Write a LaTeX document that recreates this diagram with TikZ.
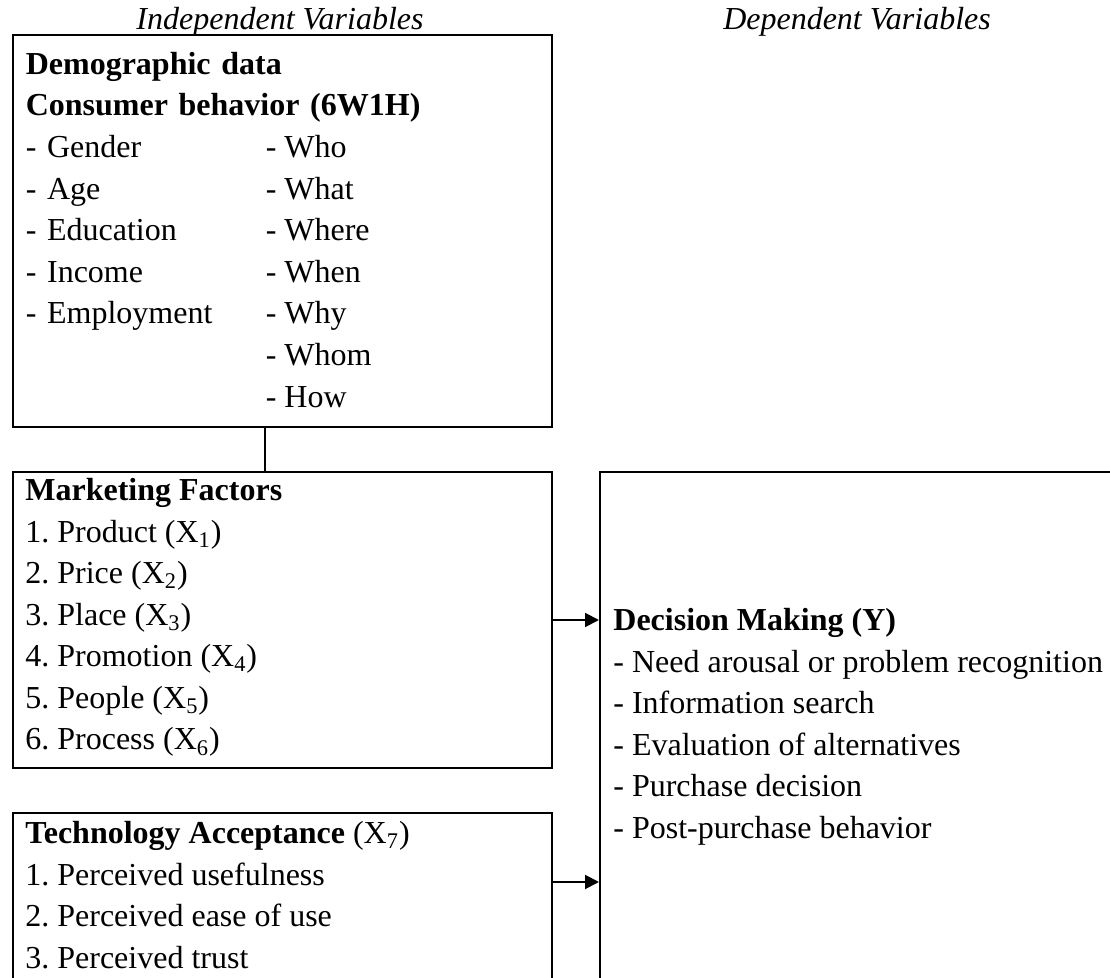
\documentclass[tikz,border=0pt]{standalone}
\usepackage{fontspec}
\setmainfont{Liberation Serif}
\usepackage{tikz}
\usepackage{xcolor}
\usetikzlibrary{arrows.meta, matrix}
\frenchspacing
\newcommand{\listsize}{\fontsize{16pt}{20.8pt}\selectfont}
\tikzset{
  %box round a group of variables
  frame/.style={
    draw
    , line width=1pt
    , inner sep=0pt
    , anchor=north west
    %, rounded corners
  },
  %lines of text inside a box
  list/.style={
    matrix of nodes
    , anchor=north west
    , inner sep=0pt
    , column sep=0pt
    , row sep=0pt
    , nodes={anchor=base west, inner sep=0pt, text height=15pt, text depth=5.8pt, font=\listsize}
  },
  head/.style={font=\listsize\bfseries},
  title/.style={font=\listsize\itshape, anchor=base, inner sep=0pt},
  flow/.style={line width=1pt, -{Triangle[length=7pt, width=7pt]}},
}
\begin{document}
\begin{tikzpicture}[x=0.5pt, y=-0.5pt]
  \path[use as bounding box] (0,0) rectangle (1110,978);
  \clip (0,0) rectangle (1110,978);
  % headings
  \node[title] (ivar) at (280,30) {Independent Variables};
  \node[title] (dvar) at (857,30) {Dependent Variables};
  % boxes
  \node[frame, minimum width=269.5pt, minimum height=196pt] (demo) at (12,34) {};
  \node[frame, minimum width=269.5pt, minimum height=148pt] (mkt) at (12,471) {};
  \node[frame, minimum width=269.5pt, minimum height=100pt] (tech) at (12,812) {};
  \node[frame, minimum width=300pt, minimum height=270pt] (dm) at (599,471) {};
  \matrix (demolist) [list, column 1/.style={nodes={text width=120pt}}] at (25,44)
    {
      |[head]| \rlap{Demographic data} \\
      |[head]| \rlap{Consumer behavior (6W1H)} \\
      - Gender & - Who \\
      - Age & - What \\
      - Education & - Where \\
      - Income & - When \\
      - Employment & - Why \\
      & - Whom \\
      & - How \\
    }; % matrix
  \matrix (mktlist) [list] at (25,470)
    {
      |[head]| Marketing Factors \\
      1. Product (X\textsubscript{1}) \\
      2. Price (X\textsubscript{2}) \\
      3. Place (X\textsubscript{3}) \\
      4. Promotion (X\textsubscript{4}) \\
      5. People (X\textsubscript{5}) \\
      6. Process (X\textsubscript{6}) \\
    }; % matrix
  \matrix (techlist) [list] at (25,813)
    {
      |[head]| Technology Acceptance {\mdseries (X\textsubscript{7})} \\
      1. Perceived usefulness \\
      2. Perceived ease of use \\
      3. Perceived trust \\
    }; % matrix
  \matrix (dmlist) [list] at (613,600)
    {
      |[head]| Decision Making (Y) \\
      - Need arousal or problem recognition \\
      - Information search \\
      - Evaluation of alternatives \\
      - Purchase decision \\
      - Post-purchase behavior \\
    }; % matrix
  % connectors
  \coordinate (techout) at ([yshift=-35pt]tech.north east);
  \draw[line width=1pt] (demo.south -| demolist-3-2.west) -- (mkt.north -| demolist-3-2.west);
  \draw[flow] (mkt.east) -- (mkt.east -| dm.west);
  \draw[flow] (techout) -- (techout -| dm.west);
\end{tikzpicture}
\end{document}
